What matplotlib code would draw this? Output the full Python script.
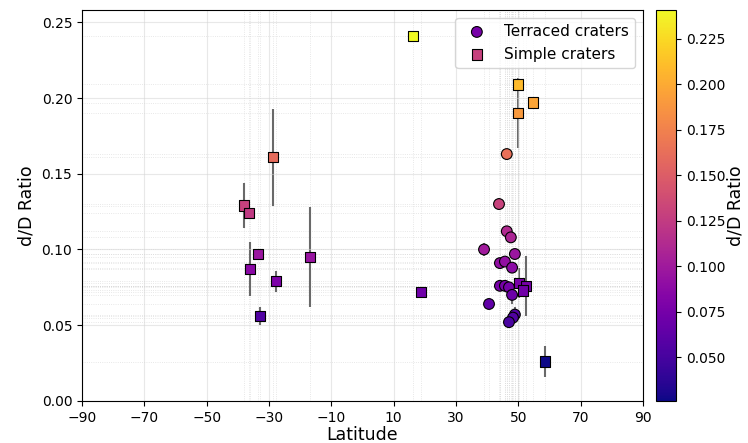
import numpy as np
import matplotlib
matplotlib.use("Agg")
import matplotlib.pyplot as plt
from matplotlib.colors import Normalize

# terraced craters (circles)
terr_lat = [44.1, 45.7, 47.0, 46.3, 43.8, 46.3, 47.6, 39.0, 48.9, 44.1, 45.7,
            48.0, 48.0, 40.6, 48.9, 48.3, 47.0]
terr_dd = [0.076, 0.076, 0.075, 0.163, 0.130, 0.112, 0.108, 0.100, 0.097, 0.091,
           0.092, 0.088, 0.070, 0.064, 0.057, 0.055, 0.052]
terr_err = [0.002, 0.002, 0.003, 0.003, 0.004, 0.002, 0.002, 0.004, 0.002, 0.002,
            0.002, 0.002, 0.006, 0.002, 0.005, 0.003, 0.002]

# simple craters (squares)
simp_lat = [-38.0, -36.4, -36.1, -33.5, -27.8, -32.9, -28.7, -16.9, 16.2, 18.8,
            50.0, 54.8, 50.0, 50.2, 52.4, 51.5, 58.5]
simp_dd = [0.129, 0.124, 0.087, 0.097, 0.079, 0.056, 0.161, 0.095, 0.241, 0.072,
           0.209, 0.197, 0.190, 0.078, 0.076, 0.073, 0.026]
simp_err = [0.015, 0.0, 0.018, 0.003, 0.007, 0.006, 0.032, 0.033, 0.0, 0.0,
            0.003, 0.002, 0.023, 0.010, 0.020, 0.003, 0.010]

xticks = np.arange(-90, 91, 20)

fig = plt.figure(figsize=(7.48, 4.43), dpi=100)
ax = fig.add_axes([0.1096, 0.095, 0.750, 0.882])
cax = fig.add_axes([0.877, 0.095, 0.027, 0.883])

all_dd = terr_dd + simp_dd
norm = Normalize(vmin=min(all_dd), vmax=max(all_dd))
cmap = plt.get_cmap('plasma')

# per-point guide lines
for lat, dd in zip(terr_lat + simp_lat, all_dd):
    ax.axvline(lat, color='lightgray', linestyle=':', linewidth=0.6, alpha=0.7, zorder=0)
    ax.axhline(dd, color='lightgray', linestyle=':', linewidth=0.6, alpha=0.7, zorder=0)

ax.errorbar(terr_lat, terr_dd, yerr=terr_err, fmt='none', ecolor='dimgray',
            elinewidth=1.5, zorder=1)
ax.errorbar(simp_lat, simp_dd, yerr=simp_err, fmt='none', ecolor='dimgray',
            elinewidth=1.5, zorder=1)

sc = ax.scatter(terr_lat, terr_dd, c=terr_dd, cmap=cmap, norm=norm, marker='o',
                s=60, edgecolors='black', linewidths=0.8, label='Terraced craters', zorder=3)
ax.scatter(simp_lat, simp_dd, c=simp_dd, cmap=cmap, norm=norm, marker='s',
           s=55, edgecolors='black', linewidths=0.8, label='Simple craters', zorder=3)

ax.set_xlim(-90, 90)
ax.set_ylim(0, 0.258)
ax.set_xticks(xticks)
ax.grid(True, color='lightgray', alpha=0.5, linewidth=0.8)
ax.tick_params(labelsize=10)
ax.set_xlabel('Latitude', fontsize=12.5, labelpad=1)
ax.set_ylabel('d/D Ratio', fontsize=12.5)
ax.legend(loc='upper right', fontsize=11)

cb = fig.colorbar(sc, cax=cax)
cb.set_label('d/D Ratio', fontsize=12.5, labelpad=1)
cb.ax.tick_params(labelsize=10)

plt.savefig('out.png', dpi=100)
